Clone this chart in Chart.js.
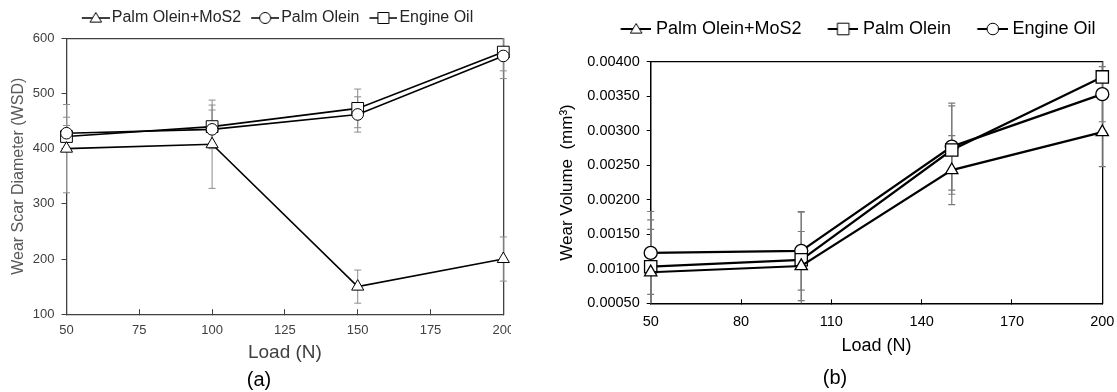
<!DOCTYPE html>
<html>
<head>
<meta charset="utf-8">
<script src="https://cdn.jsdelivr.net/npm/chart.js@4.4.0/dist/chart.umd.min.js"></script>
<style>
body { margin: 0; overflow: hidden; background: #fff; width: 1117px; height: 392px; position: relative; font-family: "Liberation Sans", Arial, sans-serif; }
.panel { position: absolute; top: 0; height: 392px; overflow: hidden; }
.panel canvas { display: block; }
.cap { position: absolute; width: 200px; font-size: 20px; line-height: 24px; text-align: center; color: #000; }
</style>
</head>
<body>
<div class="panel" style="left:0;width:511px"><canvas id="chartA" width="555" height="392"></canvas></div>
<div class="panel" style="left:552px;width:565px"><canvas id="chartB" width="606" height="392"></canvas></div>
<div class="cap" style="left:159px;top:367px">(a)</div>
<div class="cap" style="left:735px;top:365px">(b)</div>
<script>
const FONT = '"Liberation Sans", Arial, sans-serif';

// shared
const loads = [50, 100, 150, 200];
const seriesNames = ['Palm Olein+MoS2', 'Palm Olein', 'Engine Oil'];

// (a) wear scar diameter
const wsdLoadTicks = [50, 75, 100, 125, 150, 175, 200];
const wsdTicks = [100, 200, 300, 400, 500, 600];
const wsdMoS2 = [400, 408, 150, 200];
const wsdPalm = [428, 435, 462, 568];
const wsdEngine = [422, 440, 473, 575];
const wsdMoS2Err = [80, 80, 30, 40];
const wsdPalmErr = [29, 35, 32, 41];
const wsdEngineErr = [20, 39, 35, 34];

// (b) wear volume
const volLoadTicks = [50, 80, 110, 140, 170, 200];
const volTicks = [0.0005, 0.0010, 0.0015, 0.0020, 0.0025, 0.0030, 0.0035, 0.0040];
const volMoS2 = [0.00095, 0.00104, 0.00243, 0.00298];
const volPalm = [0.00103, 0.00113, 0.00272, 0.00378];
const volEngine = [0.00123, 0.00126, 0.00277, 0.00353];
const volMoS2Err = [0.00062, 0.0005, 0.0005, 0.0005];
const volPalmErr = [0.00068, 0.00069, 0.00064, 0.0003];
const volEngineErr = [0.0006, 0.00057, 0.00063, 0.0004];

const toPoints = vals => vals.map((v, i) => ({ x: loads[i], y: v }));

// grey error bars drawn under the markers
const errorBars = {
    id: 'errorBars',
    beforeDatasetsDraw(chart, args, opts) {
        const { ctx, chartArea: a, scales: { x, y } } = chart;
        ctx.save();
        ctx.beginPath();
        ctx.rect(a.left - 20, a.top, a.right - a.left + 40, a.bottom - a.top);
        ctx.clip();
        ctx.strokeStyle = opts.color;
        ctx.lineWidth = opts.width;
        chart.data.datasets.forEach(ds => {
            ds.data.forEach((p, i) => {
                const e = ds.errors[i];
                const px = x.getPixelForValue(p.x);
                const top = y.getPixelForValue(p.y + e);
                const bot = y.getPixelForValue(p.y - e);
                ctx.beginPath();
                ctx.moveTo(px, top); ctx.lineTo(px, bot);
                ctx.moveTo(px - opts.cap, top); ctx.lineTo(px + opts.cap, top);
                ctx.moveTo(px - opts.cap, bot); ctx.lineTo(px + opts.cap, bot);
                ctx.stroke();
            });
        });
        ctx.restore();
    }
};

// legend symbol: line with an open marker, drawn at the right end of the image
function legendIcon(shape, imgW, symW, lineW, r, color) {
    const c = document.createElement('canvas');
    c.width = imgW; c.height = 18;
    const g = c.getContext('2d');
    const x0 = imgW - symW, cy = 9, cx = x0 + symW / 2;
    g.strokeStyle = color;
    g.lineWidth = lineW;
    g.beginPath(); g.moveTo(x0, cy); g.lineTo(imgW, cy); g.stroke();
    g.fillStyle = '#fff';
    g.lineWidth = 1;
    g.beginPath();
    if (shape === 'circle') g.arc(cx, cy, r, 0, Math.PI * 2);
    else if (shape === 'rect') g.rect(cx - r, cy - r, 2 * r, 2 * r);
    else { g.moveTo(cx, cy - r); g.lineTo(cx + r * 1.05, cy + r * 0.75); g.lineTo(cx - r * 1.05, cy + r * 0.75); g.closePath(); }
    g.fill(); g.stroke();
    return c;
}

function frameAxis(pos, min, max, color, size) {
    return {
        type: 'linear', position: pos, min: min, max: max,
        ticks: { display: false },
        grid: { display: false },
        border: { display: true, color: color, width: 1.3 },
        afterFit: s => { if (pos === 'top') s.height = size; else s.width = size; }
    };
}

// Chart (a)
const greyA = '#404040';
const iconsA = [
    legendIcon('triangle', 34, 28, 1.5, 5.5, '#000'),
    legendIcon('circle', 34, 28, 1.5, 5.5, '#000'),
    legendIcon('rect', 34, 28, 1.5, 5.5, '#000')
];
const ctxA = document.getElementById('chartA').getContext('2d');
const chartA = new Chart(ctxA, {
    type: 'line',
    data: {
        datasets: [
            { label: seriesNames[0], data: toPoints(wsdMoS2), errors: wsdMoS2Err, pointStyle: 'triangle', pointRadius: 7 },
            { label: seriesNames[1], data: toPoints(wsdPalm), errors: wsdPalmErr, pointStyle: 'circle', pointRadius: 5.8 },
            { label: seriesNames[2], data: toPoints(wsdEngine), errors: wsdEngineErr, pointStyle: 'rect', pointRadius: 8.3 }
        ].map(d => Object.assign(d, {
            borderColor: '#000', borderWidth: 1.6, backgroundColor: '#fff',
            pointBackgroundColor: '#fff', pointBorderColor: '#000', pointBorderWidth: 1,
            tension: 0, clip: false
        }))
    },
    options: {
        responsive: false,
        animation: false,
        layout: { padding: { left: 0, right: 0, top: 0, bottom: 28 } },
        plugins: {
            legend: {
                position: 'top',
                labels: {
                    usePointStyle: true, pointStyleWidth: 22, padding: 10,
                    color: '#262626', font: { size: 16, family: FONT },
                    generateLabels: chart => Chart.defaults.plugins.legend.labels.generateLabels(chart)
                        .map((l, i) => Object.assign(l, { pointStyle: iconsA[i] }))
                }
            },
            tooltip: { enabled: false },
            errorBars: { color: '#8c8c8c', width: 1, cap: 3.5 }
        },
        scales: {
            x: {
                type: 'linear', position: 'bottom',
                min: wsdLoadTicks[0], max: wsdLoadTicks[wsdLoadTicks.length - 1],
                ticks: { stepSize: wsdLoadTicks[1] - wsdLoadTicks[0], color: greyA, font: { size: 13, family: FONT }, padding: 13, maxRotation: 0 },
                grid: { drawOnChartArea: false, tickLength: -5, color: greyA },
                border: { color: greyA, width: 1.3 },
                title: { display: true, text: 'Load (N)', color: greyA, font: { size: 19, family: FONT }, padding: 0 },
                afterFit: s => { s.height = 49.8; }
            },
            y: {
                type: 'linear', position: 'left',
                min: wsdTicks[0], max: wsdTicks[wsdTicks.length - 1],
                ticks: { stepSize: wsdTicks[1] - wsdTicks[0], color: greyA, font: { size: 13, family: FONT }, padding: 7 },
                grid: { drawOnChartArea: false, tickLength: 5, color: greyA },
                border: { color: greyA, width: 1.3 },
                title: { display: true, text: 'Wear Scar Diameter (WSD)', color: '#595959', font: { size: 16, family: FONT }, padding: { top: 9.4, bottom: 0 } },
                afterFit: s => { s.width = 66.5; }
            },
            x2: frameAxis('top', wsdLoadTicks[0], wsdLoadTicks[wsdLoadTicks.length - 1], greyA, 2.3),
            y2: frameAxis('right', wsdTicks[0], wsdTicks[wsdTicks.length - 1], greyA, 51.7)
        }
    },
    plugins: [errorBars]
});

// Chart (b)
const iconsB = [
    legendIcon('triangle', 41.5, 31, 2, 5.5, '#000'),
    legendIcon('rect', 41.5, 31, 2, 5.8, '#000'),
    legendIcon('circle', 41.5, 31, 2, 5.8, '#000')
];
const ctxB = document.getElementById('chartB').getContext('2d');
const chartB = new Chart(ctxB, {
    type: 'line',
    data: {
        datasets: [
            { label: seriesNames[0], data: toPoints(volMoS2), errors: volMoS2Err, pointStyle: 'triangle', pointRadius: 7.1 },
            { label: seriesNames[1], data: toPoints(volPalm), errors: volPalmErr, pointStyle: 'rect', pointRadius: 8.7 },
            { label: seriesNames[2], data: toPoints(volEngine), errors: volEngineErr, pointStyle: 'circle', pointRadius: 6.5 }
        ].map(d => Object.assign(d, {
            borderColor: '#000', borderWidth: 2.2, backgroundColor: '#fff',
            pointBackgroundColor: '#fff', pointBorderColor: '#000', pointBorderWidth: 1.3,
            tension: 0, clip: false
        }))
    },
    options: {
        responsive: false,
        animation: false,
        layout: { padding: { left: 0, right: 0, top: 0, bottom: 35.2 } },
        plugins: {
            legend: {
                position: 'top',
                labels: {
                    usePointStyle: true, pointStyleWidth: 32.5, padding: 20,
                    color: '#000', font: { size: 18, family: FONT },
                    generateLabels: chart => Chart.defaults.plugins.legend.labels.generateLabels(chart)
                        .map((l, i) => Object.assign(l, { pointStyle: iconsB[i] }))
                }
            },
            tooltip: { enabled: false },
            errorBars: { color: '#7a7a7a', width: 1.2, cap: 3.5 }
        },
        scales: {
            x: {
                type: 'linear', position: 'bottom',
                min: volLoadTicks[0], max: volLoadTicks[volLoadTicks.length - 1],
                ticks: { stepSize: volLoadTicks[1] - volLoadTicks[0], color: '#000', font: { size: 14.5, family: FONT }, padding: 13.7, maxRotation: 0 },
                grid: { drawOnChartArea: false, tickLength: -4, color: '#000' },
                border: { color: '#000', width: 1.5 },
                title: { display: true, text: 'Load (N)', color: '#000', font: { size: 18, family: FONT }, padding: 0 },
                afterFit: s => { s.height = 53.5; }
            },
            y: {
                type: 'linear', position: 'left',
                min: volTicks[0], max: volTicks[volTicks.length - 1],
                ticks: { stepSize: volTicks[1] - volTicks[0], color: '#000', font: { size: 14.5, family: FONT }, padding: 7, callback: v => v.toFixed(5) },
                grid: { drawOnChartArea: false, tickLength: 4, color: '#000' },
                border: { color: '#000', width: 1.5 },
                title: { display: true, text: 'Wear Volume  (mm³)', color: '#000', font: { size: 17, family: FONT }, padding: { top: 4.8, bottom: 0 } },
                afterFit: s => { s.width = 98.7; }
            },
            x2: frameAxis('top', volLoadTicks[0], volLoadTicks[volLoadTicks.length - 1], '#000', 13.7),
            y2: frameAxis('right', volTicks[0], volTicks[volTicks.length - 1], '#000', 55.7)
        }
    },
    plugins: [errorBars]
});
</script>
</body>
</html>
